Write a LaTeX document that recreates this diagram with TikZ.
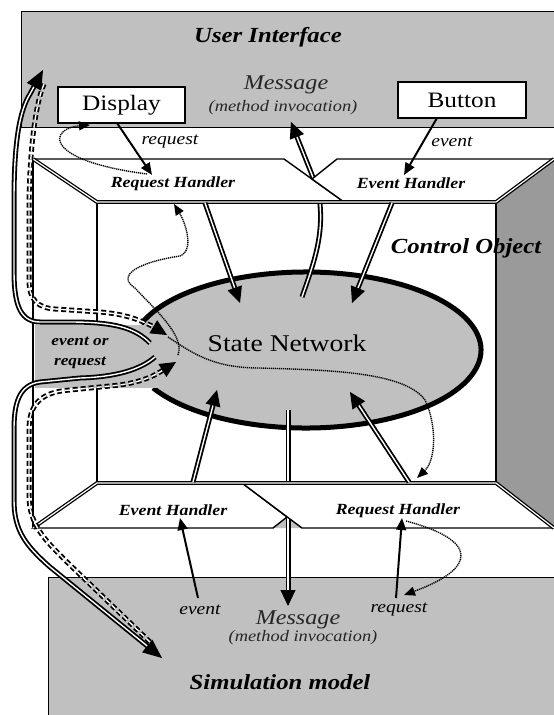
\documentclass[tikz,border=0pt]{standalone}
\usepackage{fontspec}
\setmainfont[FakeStretch=1.15]{Liberation Serif}
\usepackage{tikz}
\usetikzlibrary{positioning,shapes.geometric,arrows.meta,calc}
\definecolor{panel}{HTML}{C0C0C0}
\definecolor{wall}{HTML}{9A9A9A}
\tikzset{
    area/.style={rectangle, draw, fill=panel, line width=1.3pt, anchor=north west, inner sep=0pt},
    widget/.style={rectangle, draw, fill=white, line width=1.5pt, inner sep=0pt, font=\fontsize{22}{24}\selectfont},
    heading/.style={font=\fontsize{21.5}{24}\selectfont\bfseries\itshape},
    tag/.style={font=\fontsize{17}{19}\selectfont\itshape},
    msg/.style={font=\fontsize{21}{23}\selectfont\itshape, text=black!85},
    msgsub/.style={font=\fontsize{16}{18}\selectfont\itshape, text=black!85},
    hlabel/.style={font=\fontsize{15.5}{17}\selectfont\bfseries\itshape},
    frame/.style={line width=1.4pt},
    rail/.style={double, line width=1.3pt, double distance=1.2pt},
    handler/.style={fill=white, draw, line width=1.4pt, line join=miter},
    rim/.style={line width=5pt},
    flow/.style={double, line width=1.8pt, double distance=1.4pt, shorten >=10pt},
    dashflow/.style={flow, dash pattern=on 5pt off 3pt},
    flowhead/.style={line width=1pt, -{Triangle[length=16pt,width=15pt]}},
    bighead/.style={line width=1pt, -{Triangle[length=19pt,width=16pt]}},
    callarrow/.style={line width=2pt, -{Triangle[length=12pt,width=10pt]}},
    dotflow/.style={line width=1.4pt, dash pattern=on 1.2pt off 0.8pt, -{Triangle[length=11pt,width=9pt]}}
}

\begin{document}
\begin{tikzpicture}[x=1pt,y=-1pt]
\useasboundingbox (0,0) rectangle (554,715);

% outer panels
\node[area, minimum width=545, minimum height=116] (ui) at (21,11) {};
\node[area, minimum width=520, minimum height=150] (sim) at (48,577) {};
\node[heading] (uititle) at (268,37) {User Interface};
\node[heading] (simtitle) at (280,682) {Simulation model};

\node[widget, minimum width=127, minimum height=36] (display) at (121.5,105) {Display};
\node[widget, minimum width=128, minimum height=36] (button) at (462,100) {Button};

% control object room
\fill[wall] (496,202) -- (554,159) -- (554,528) -- (496,483) -- cycle;
\draw[frame] (33,159) -- (33,528);
\draw[frame] (97,202) -- (97,483);
\draw[frame] (496,202) -- (496,483);
\node[heading] (ctrl) at (466,248) {Control Object};

% state network
\node[ellipse, fill=panel, minimum width=350, minimum height=156, inner sep=0pt] (net) at (306,350) {};
\draw[rim] (net.center) ++(199.8:175 and 78) arc[start angle=199.8, end angle=510.9, x radius=175, y radius=78];
\node[fill=panel, minimum width=125, minimum height=63, anchor=north west, inner sep=0pt] (evbox) at (35,325) {};
\node[hlabel, align=center, font=\fontsize{15}{20}\selectfont\bfseries\itshape] (evreq) at (80,353) {event or\\request};
\node[font=\fontsize{24}{26}\selectfont] (nettitle) at (287,343) {State Network};

% messages behind the handlers
\fill[panel] (273,528) -- (287,517) -- (302,528) -- cycle;
\coordinate (upfrom) at (302,297);
\coordinate (upbend) at (318,190);
\coordinate (uptip) at (291,122);
\draw[flow] (upfrom) .. controls (314,262) and (326,232) .. (upbend) -- (uptip);
\draw[flowhead] ($(uptip)!1pt!(upbend)$) -- (uptip);
\coordinate (downfrom) at (288,410);
\coordinate (downtip) at (288,606);
\draw[flow] (downfrom) -- (downtip);
\draw[flowhead] ($(downtip)!1pt!(downfrom)$) -- (downtip);

% handlers
\draw[handler] (33,159) -- (284,159) -- (344,202) -- (97,202) -- cycle;
\draw[handler] (337,159) -- (554,159) -- (496,202) -- (344,202) -- (312,179) -- cycle;
\draw[handler] (97,483) -- (242,483) -- (287,517) -- (273,528) -- (33,528) -- cycle;
\draw[handler] (242,483) -- (496,483) -- (554,528) -- (302,528) -- cycle;
\draw[rail] (33,159) -- (97,202) -- (496,202) -- (554,159);
\draw[rail] (33,528) -- (97,483) -- (496,483) -- (554,528);
\node[hlabel] (reqtop) at (173,184) {Request Handler};
\node[hlabel] (evtop) at (411,183) {Event Handler};
\node[hlabel] (evbot) at (173,510) {Event Handler};
\node[hlabel] (reqbot) at (398,511) {Request Handler};

% handlers to state network
\foreach \from/\to in {{205,203}/{240,303}, {392,203}/{352,303}, {193,482}/{217,390}, {409,482}/{350,392}} {
    \draw[flow] (\from) -- (\to);
    \draw[flowhead] ($(\to)!1pt!(\from)$) -- (\to);
}

% calls from the outside
\node[tag] (reqlbl) at (170,142) {request};
\node[tag] (evlbl) at (452,142) {event};
\node[tag] (evlbl2) at (200,610) {event};
\node[tag] (reqlbl2) at (399,610) {request};
\node[msg] (msgtop) at (286,85) {Message};
\node[msgsub] (subtop) at (283,108) {(method invocation)};
\node[msg] (msgbot) at (298,620) {Message};
\node[msgsub] (subbot) at (303,638) {(method invocation)};

\draw[callarrow] (117,123) -- (152,175);
\draw[callarrow] (437,118) -- (404,175);
\draw[callarrow] (198,598) -- (180,518);
\draw[callarrow] (396,598) -- (402,518);

% dotted replies
\draw[dotflow] (147,174) .. controls (40,160) and (50,128) .. (90,125);
\draw[dotflow] (406,521) .. controls (478,540) and (478,568) .. (404,595);
\draw[dotflow] (168,337) .. controls (195,355) and (215,368) .. (260,368)
    .. controls (330,370) and (405,372) .. (425,400)
    .. controls (437,425) and (436,460) .. (417,478);
\draw[dotflow] (178,355) .. controls (186,335) and (150,305) .. (135,288)
    .. controls (115,275) and (140,262) .. (180,256)
    .. controls (195,250) and (185,222) .. (174,204);

% event or request paths
\coordinate (uiin) at (43,70);
\coordinate (simin) at (162,658);
\coordinate (netup) at (167,335);
\coordinate (netdown) at (176,362);
\draw[dashflow, shorten >=6pt] (44,84) .. controls (35,105) and (30,150) .. (29,200) -- (29,280)
    .. controls (29,300) and (38,308) .. (55,309) -- (100,312)
    .. controls (125,314) and (140,320) .. (152,326) -- (netup);
\draw[flowhead] ($(netup)!1pt!(152,326)$) -- (netup);
\draw[dashflow, shorten >=6pt] (150,642) -- (67,562) .. controls (45,540) and (29,525) .. (29,495) -- (29,430)
    .. controls (29,405) and (40,392) .. (70,390) -- (110,386)
    .. controls (135,384) and (150,378) .. (160,372) -- (netdown);
\draw[flowhead] ($(netdown)!1pt!(160,372)$) -- (netdown);
\draw[flow] (150,343) .. controls (135,328) and (115,322) .. (70,322) -- (40,322)
    .. controls (18,322) and (14,300) .. (14,270) -- (14,200)
    .. controls (14,140) and (20,110) .. (30,94) -- (uiin);
\draw[bighead] ($(uiin)!1pt!(30,94)$) -- (uiin);
\draw[flow] (155,357) .. controls (140,370) and (115,377) .. (80,378) -- (40,382)
    .. controls (18,385) and (14,405) .. (14,430) -- (14,500)
    .. controls (14,530) and (25,545) .. (50,567) -- (simin);
\draw[bighead] ($(simin)!1pt!(50,567)$) -- (simin);

\end{tikzpicture}
\end{document}
